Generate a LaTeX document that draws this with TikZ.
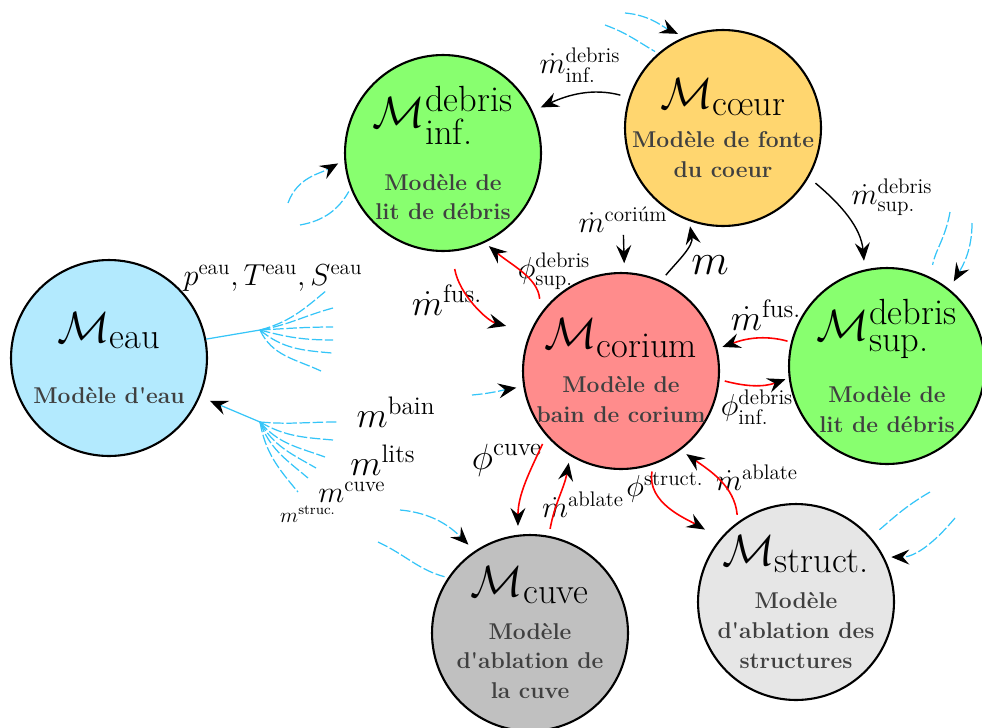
\documentclass[tikz,border=0pt]{standalone}
\usepackage{amsmath}
\usetikzlibrary{arrows.meta}
\definecolor{mdgray}{HTML}{404040}
\definecolor{mdeau}{HTML}{B3EAFE}
\definecolor{mddebris}{HTML}{88FF6F}
\definecolor{mdcoeur}{HTML}{FFD66F}
\definecolor{mdcorium}{HTML}{FF8C8C}
\definecolor{mdcuve}{HTML}{C0C0C0}
\definecolor{mdstruct}{HTML}{E6E6E6}
\definecolor{mdred}{HTML}{FF0000}
\definecolor{mdwater}{HTML}{35C5F8}
\newcommand{\mddesc}{\fontsize{13pt}{17pt}\selectfont\bfseries}
\newcommand{\mdtitle}[1]{{\Huge\normalfont\color{black}$#1$}}
\tikzset{
  md text/.style={font=\rmfamily, text=black},
  md model/.style={circle, draw=black, line width=1.2pt, minimum size=3.92cm, inner sep=0pt},
  md inside/.style={align=center, font=\mddesc, text=mdgray, inner sep=0pt},
  md label/.style={font=\LARGE, inner sep=1pt},
  md tip/.style={-{Stealth[length=3.6mm,width=3mm,inset=1.3mm,black]}},
  md arrow/.style={md tip, line width=0.8pt, draw=black},
  md red/.style={md tip, line width=0.9pt, draw=mdred},
  md water/.style={line width=0.7pt, draw=mdwater, dash pattern=on 6pt off 1.5pt},
  md water solid/.style={line width=0.7pt, draw=mdwater},
  md water arrow/.style={md water, md tip}
}
\begin{document}
\begin{tikzpicture}[md text, x=0.02cm, y=0.02cm]
  \useasboundingbox (0,0) rectangle (982,-727);
  % models
  \node[md model, fill=mdeau, label={[md inside]center:
    \mdtitle{\mathcal{M}_{\text{eau}}}\\[18pt]Modèle d\textquotesingle eau}] (eau) at (109,-358) {};
  \node[md model, fill=mddebris, label={[md inside]center:
    \mdtitle{\mathcal{M}^{\text{debris}}_{\text{inf.}}}\\[16pt]Modèle de\\lit de débris}] (inf) at (443,-153) {};
  \node[md model, fill=mdcoeur, label={[md inside]center:
    \mdtitle{\mathcal{M}_{\text{cœur}}}\\[5pt]Modèle de fonte\\du coeur}] (coeur) at (723,-128) {};
  \node[md model, fill=mdcorium, label={[md inside]center:
    \mdtitle{\mathcal{M}_{\text{corium}}}\\[8pt]Modèle de\\bain de corium}] (corium) at (621,-371) {};
  \node[md model, fill=mddebris, label={[md inside]center:
    \mdtitle{\mathcal{M}^{\text{debris}}_{\text{sup.}}}\\[15pt]Modèle de\\lit de débris}] (sup) at (887,-366) {};
  \node[md model, fill=mdcuve, label={[md inside]center:
    \mdtitle{\mathcal{M}_{\text{cuve}}}\\[7pt]Modèle\\d\textquotesingle ablation de\\la cuve}] (cuve) at (530,-633) {};
  \node[md model, fill=mdstruct, label={[md inside]center:
    \mdtitle{\mathcal{M}_{\text{struct.}}}\\[8pt]Modèle\\d\textquotesingle ablation des\\structures}] (struct) at (796,-602) {};

  % exchange labels
  \node[md label, font=\huge] (lfusinf) at (447,-300) {$\dot m^{\text{fus.}}$};
  \node[md label] (lphisup) at (554,-271) {$\phi^{\text{debris}}_{\text{sup.}}$};
  \node[md label] (lcor) at (623,-220) {$\dot m^{\text{coriúm}}$};
  \node[md label, font=\Huge] (lm) at (710,-265) {$m$};
  \node[md label] (ldinf) at (580,-65) {$\dot m^{\text{debris}}_{\text{inf.}}$};
  \node[md label] (ldsup) at (892,-197) {$\dot m^{\text{debris}}_{\text{sup.}}$};
  \node[md label, font=\huge] (lfussup) at (766,-315) {$\dot m^{\text{fus.}}$};
  \node[md label] (lphiinf) at (757,-407) {$\phi^{\text{debris}}_{\text{inf.}}$};
  \node[md label, font=\huge] (lphicuve) at (507,-460) {$\phi^{\text{cuve}}$};
  \node[md label] (lablcuve) at (583,-505) {$\dot m^{\text{ablate}}$};
  \node[md label] (lphist) at (665,-487) {$\phi^{\text{struct.}}$};
  \node[md label] (lablst) at (757,-478) {$\dot m^{\text{ablate}}$};
  \node[md label] (lpts) at (273,-278) {$p^{\text{eau}},T^{\text{eau}},S^{\text{eau}}$};
  \node[md label, font=\huge] (lbain) at (396,-412) {$m^{\text{bain}}$};
  \node[md label, font=\huge] (llits) at (383,-460) {$m^{\text{lits}}$};
  \node[md label] (lcuve) at (352,-492) {$m^{\text{cuve}}$};
  \node[md label, font=\large] (lstruc) at (308,-514) {$m^{\text{struc.}}$};

  % mass and energy exchanges
  \draw[md red, shorten <=10pt, shorten >=14pt] (inf.-85) to[out=-80,in=165] (corium.157);
  \draw[md red, shorten <=8pt, shorten >=3pt] (corium.144) to[out=95,in=-40] (inf.-65);
  \draw[md arrow, shorten >=5pt] (lcor) -- (corium.88);
  \draw[md arrow, shorten <=4pt, shorten >=3pt] (corium.66) to[out=50,in=-80] (coeur.-110);
  \draw[md arrow, shorten <=5pt, shorten >=5pt] (coeur.162) to[out=165,in=25] (inf.25);
  \draw[md arrow, shorten <=5pt, shorten >=5pt] (coeur.-30) to[out=-40,in=95] (sup.103);
  \draw[md red, shorten <=2pt, shorten >=3pt] (sup.166) to[out=165,in=20] (corium.13);
  \draw[md red, shorten <=3pt, shorten >=2pt] (corium.-5) to[out=-15,in=200] (sup.-173);
  \draw[md red, shorten <=5pt, shorten >=5pt] (corium.-139) to[out=-115,in=90] (cuve.97);
  \draw[md red, shorten <=4pt, shorten >=4pt] (cuve.79) to[out=80,in=-100] (corium.-121);
  \draw[md red, shorten <=4pt, shorten >=10pt] (corium.-71) to[out=-100,in=150] (struct.140);
  \draw[md red, shorten <=4pt, shorten >=4pt] (struct.126) to[out=95,in=-35] (corium.-53);

  % water model links
  \coordinate (hubout) at (260,-330);
  \draw[md water solid] (eau.11) -- (hubout);
  \foreach \ex/\ey/\o/\i [count=\k] in
    {327/290/15/-140, 333/308/10/-165, 333/327/3/180, 333/340/-15/180, 332/353/-40/175, 321/371/-65/155}
  {
    \coordinate (fanout\k) at (\ex,-\ey);
    \draw[md water] (hubout) to[out=\o,in=\i] (fanout\k);
  }
  \coordinate (hubin) at (260,-422);
  \draw[md water solid, md tip, shorten >=6pt] (hubin) -- (eau.-23);
  \foreach \ex/\ey/\o/\i [count=\k] in
    {337/422/-5/180, 333/440/-30/175, 325/457/-50/160, 316/468/-60/150, 308/478/-70/140, 298/492/-80/130}
  {
    \coordinate (fanin\k) at (\ex,-\ey);
    \draw[md water] (hubin) to[out=\o,in=\i] (fanin\k);
  }
  \coordinate (wcor) at (472,-395);
  \draw[md water arrow, shorten >=4pt] (wcor) to[out=5,in=190] (corium.-171);
  \coordinate (winfa) at (288,-203);
  \coordinate (winfb) at (300,-225);
  \draw[md water arrow, shorten >=4pt] (winfa) to[out=70,in=210] (inf.184);
  \draw[md water, shorten >=2pt] (winfb) to[out=10,in=-120] (inf.201);
  \coordinate (wcoeura) at (625,-13);
  \coordinate (wcoeurb) at (605,-25);
  \draw[md water arrow, shorten >=4pt] (wcoeura) to[out=-5,in=155] (coeur.113);
  \draw[md water, shorten >=2pt] (wcoeurb) to[out=-20,in=150] (coeur.131);
  \coordinate (wsupa) at (950,-212);
  \coordinate (wsupb) at (972,-223);
  \draw[md water, shorten >=7pt] (wsupa) to[out=-100,in=80] (sup.64);
  \draw[md water arrow, shorten >=5pt] (wsupb) to[out=-90,in=60] (sup.51);
  \coordinate (wcuvea) at (400,-510);
  \coordinate (wcuveb) at (378,-542);
  \draw[md water arrow, shorten >=5pt] (wcuvea) to[out=-5,in=135] (cuve.124);
  \draw[md water, shorten >=2pt] (wcuveb) to[out=-25,in=165] (cuve.146);
  \coordinate (wstructa) at (930,-492);
  \coordinate (wstructb) at (955,-518);
  \draw[md water, shorten >=5pt] (wstructa) to[out=210,in=40] (struct.41);
  \draw[md water arrow, shorten >=4pt] (wstructb) to[out=-130,in=0] (struct.27);
\end{tikzpicture}
\end{document}
